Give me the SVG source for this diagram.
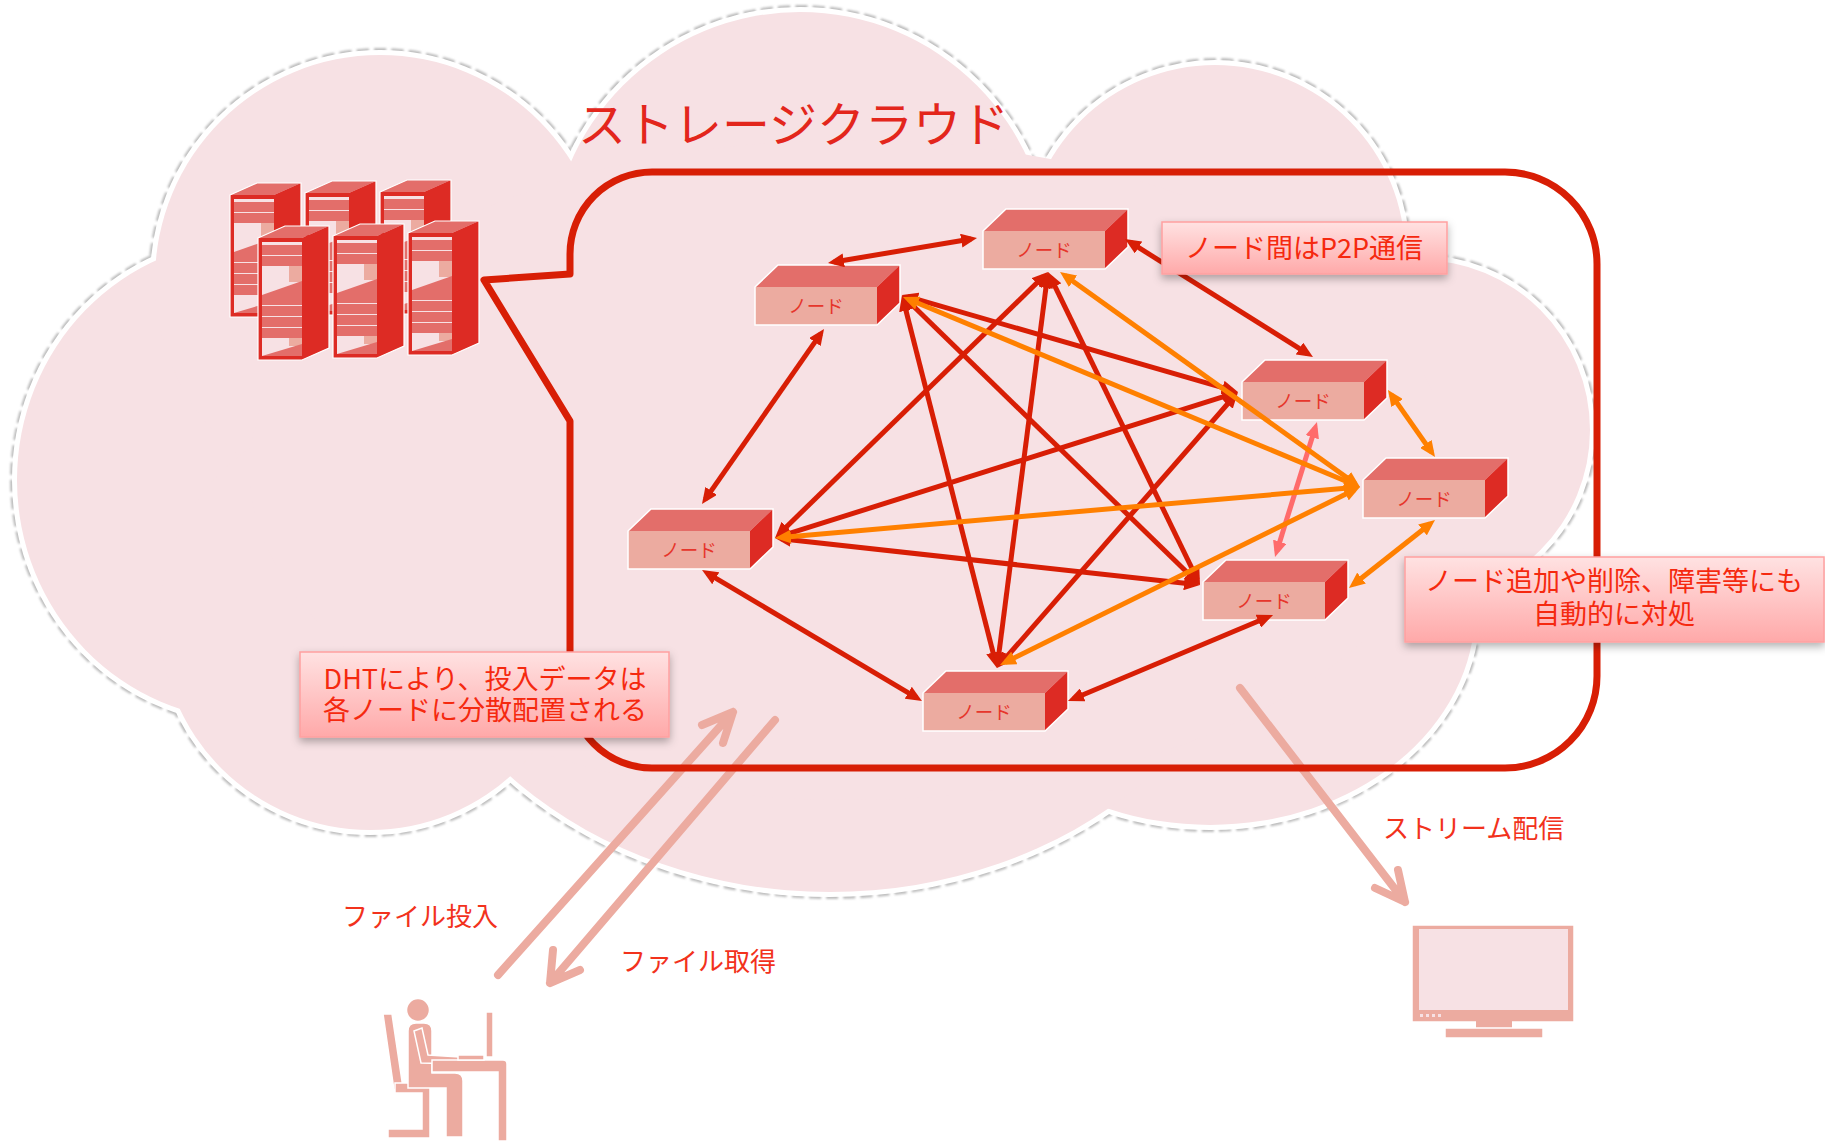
<svg xmlns="http://www.w3.org/2000/svg" width="1825" height="1141" viewBox="0 0 1825 1141">
<style>
  .jp { font-family: "Noto Sans CJK JP", "Noto Sans", sans-serif; }
  .title { font-size: 48px; fill: #e3261c; }
  .lbl { font-size: 26px; fill: #f2321c; }
  .box-t { font-size: 27px; fill: #f5290f; text-anchor: middle; }
  .nd-t { font-size: 18.5px; fill: #e6362c; text-anchor: middle; }
  .note { fill: url(#noteGrad); stroke: #ffa0a0; stroke-width: 1.5; filter: url(#shadow); }
  .link { stroke-width: 5; fill: none; }
  .red { stroke: #d81e05; marker-start: url(#ahRed); marker-end: url(#ahRed); }
  .org { stroke: #ff8000; marker-start: url(#ahOrg); marker-end: url(#ahOrg); }
  .pnk { stroke: #ff6b6b; marker-start: url(#ahPnk); marker-end: url(#ahPnk); }
  .pale { stroke: #ecaba0; stroke-width: 8; stroke-linecap: round; stroke-linejoin: round; fill: none; }
  .ic { fill: #ecaba0; stroke: #fff; stroke-width: 1.5; }
</style>
<defs>
  <linearGradient id="noteGrad" x1="0" y1="0" x2="0" y2="1">
    <stop offset="0" stop-color="#ffe2e2"/>
    <stop offset="1" stop-color="#ffa9a9"/>
  </linearGradient>
  <filter id="shadow" x="-10%" y="-20%" width="130%" height="160%">
    <feDropShadow dx="0" dy="4" stdDeviation="4" flood-color="#000" flood-opacity="0.3"/>
  </filter>
  <filter id="soft" x="-5%" y="-5%" width="110%" height="110%">
    <feGaussianBlur stdDeviation="0.8"/>
  </filter>
  <marker id="ahRed" viewBox="0 0 16 14" markerWidth="16" markerHeight="14" refX="10" refY="7" orient="auto-start-reverse" markerUnits="userSpaceOnUse">
    <path d="M0,0 L16,7 L0,14 Z" fill="#d81e05"/>
  </marker>
  <marker id="ahOrg" viewBox="0 0 16 14" markerWidth="16" markerHeight="14" refX="10" refY="7" orient="auto-start-reverse" markerUnits="userSpaceOnUse">
    <path d="M0,0 L16,7 L0,14 Z" fill="#ff8000"/>
  </marker>
  <marker id="ahPnk" viewBox="0 0 16 14" markerWidth="16" markerHeight="14" refX="10" refY="7" orient="auto-start-reverse" markerUnits="userSpaceOnUse">
    <path d="M0,0 L16,7 L0,14 Z" fill="#ff6b6b"/>
  </marker>

  <!-- cloud lobes -->
  <g id="lobes">
    <ellipse cx="250" cy="480" rx="233" ry="240"/>
    <circle cx="380" cy="280" r="225"/>
    <circle cx="800" cy="262" r="250"/>
    <circle cx="1215" cy="255" r="190"/>
    <circle cx="1420" cy="430" r="170"/>
    <ellipse cx="1210" cy="610" rx="265" ry="215"/>
    <ellipse cx="830" cy="522" rx="440" ry="370"/>
    <circle cx="370" cy="620" r="210"/>
  </g>

  <!-- storage node box, front face origin at (0,0) -->
  <g id="box">
    <polygon points="0,0 23,-22 145,-22 122,0" fill="#e36e6a"/>
    <polygon points="122,0 145,-22 145,16 122,38" fill="#dd2b24"/>
    <rect width="122" height="38" fill="#ecaba0"/>
    <path d="M0,0 L23,-22 H145 V16 L122,38 H0 Z" fill="none" stroke="#fff" stroke-width="1.5"/>
  </g>

  <!-- server rack, front face origin at (0,0) -->
  <g id="rack">
    <polygon points="0,0 27,-12 71,-12 44,0" fill="#e36e6a"/>
    <polygon points="44,0 71,-12 71,110 44,122" fill="#dd2b24"/>
    <rect width="44" height="122" fill="#dd2b24"/>
    <rect x="4" y="4" width="40" height="114" fill="#f7e1e4"/>
    <rect x="4" y="7" width="40" height="10" fill="#e36e6a"/>
    <rect x="4" y="18" width="40" height="10" fill="#e36e6a"/>
    <rect x="31" y="28" width="13" height="16" fill="#ecaba0"/>
    <polygon points="4,57 44,43 44,57" fill="#e36e6a"/>
    <rect x="4" y="57" width="40" height="10" fill="#e36e6a"/>
    <rect x="4" y="68" width="40" height="10" fill="#e36e6a"/>
    <rect x="4" y="79" width="40" height="10" fill="#e36e6a"/>
    <rect x="4" y="90" width="40" height="10" fill="#e36e6a"/>
    <rect x="31" y="100" width="13" height="8" fill="#ecaba0"/>
    <polygon points="4,118 44,106 44,118" fill="#e36e6a"/>
    <path d="M0,0 L27,-12 H71 V110 L44,122 H0 Z" fill="none" stroke="#fff" stroke-width="1.2"/>
  </g>
</defs>

<rect width="1825" height="1141" fill="#fff"/>

<!-- cloud: dashed rim, white halo, then pink body -->
<g id="cloud">
  <use href="#lobes" fill="none" stroke="#bdbdbd" stroke-width="14" stroke-dasharray="12 5" filter="url(#soft)"/>
  <use href="#lobes" fill="#f7e1e4" stroke="#fff" stroke-width="10"/>
  <use href="#lobes" fill="#f7e1e4"/>
  <ellipse cx="850" cy="470" rx="600" ry="330" fill="#f7e1e4"/>
</g>

<!-- transfer arrows -->
<g id="transfers">
  <path class="pale" d="M498,975 L733,712 M702,725 L733,712 L723,743"/>
  <path class="pale" d="M775,720 L550,983 M553,950 L550,983 L580,970"/>
  <path class="pale" d="M1240,688 L1405,902 M1398,870 L1405,902 L1375,888"/>
</g>

<!-- cluster outline with callout toward the servers -->
<path id="cluster" d="M652,172 H1505 A92,92 0 0 1 1597,264 V676 A92,92 0 0 1 1505,768 H652 A82,82 0 0 1 570,686 V421 L484,280 L570,274 V254 A82,82 0 0 1 652,172 Z" fill="none" stroke="#d81e05" stroke-width="7" stroke-linejoin="round"/>

<text class="jp title" x="578" y="142">ストレージクラウド</text>

<!-- server farm -->
<g id="servers">
  <use href="#rack" x="230" y="195"/>
  <use href="#rack" x="305" y="193"/>
  <use href="#rack" x="380" y="192"/>
  <use href="#rack" x="258" y="238"/>
  <use href="#rack" x="333" y="236"/>
  <use href="#rack" x="408" y="233"/>
</g>

<!-- storage nodes -->
<g id="node-1" transform="translate(983,231)"><use href="#box"/><text class="jp nd-t" x="61" y="26">ノード</text></g>
<g id="node-2" transform="translate(755,287)"><use href="#box"/><text class="jp nd-t" x="61" y="26">ノード</text></g>
<g id="node-3" transform="translate(1242,382)"><use href="#box"/><text class="jp nd-t" x="61" y="26">ノード</text></g>
<g id="node-4" transform="translate(1363,480)"><use href="#box"/><text class="jp nd-t" x="61" y="26">ノード</text></g>
<g id="node-5" transform="translate(1203,582)"><use href="#box"/><text class="jp nd-t" x="61" y="26">ノード</text></g>
<g id="node-6" transform="translate(628,531)"><use href="#box"/><text class="jp nd-t" x="61" y="26">ノード</text></g>
<g id="node-7" transform="translate(923,693)"><use href="#box"/><text class="jp nd-t" x="61" y="26">ノード</text></g>

<!-- peer-to-peer links -->
<g id="links" class="link">
  <line class="red" x1="833.9" y1="262" x2="971.1" y2="239"/>
  <line class="red" x1="1130.1" y1="242.2" x2="1307.9" y2="353.8"/>
  <line class="red" x1="820.6" y1="333.9" x2="705.4" y2="499.1"/>
  <line class="red" x1="707.2" y1="573.1" x2="916.8" y2="697.9"/>
  <line class="red" x1="1073.5" y1="698.7" x2="1267.5" y2="617.3"/>
  <line class="org" x1="1391.4" y1="394.9" x2="1431.6" y2="452.1"/>
  <line class="org" x1="1430.3" y1="523.7" x2="1353.7" y2="584.3"/>
  <line class="pnk" x1="1315.2" y1="427.7" x2="1276.8" y2="551.3"/>
  <line class="red" x1="907.8" y1="296.7" x2="1232.2" y2="390.3"/>
  <line class="red" x1="906.3" y1="299.2" x2="1195.7" y2="580.8"/>
  <line class="red" x1="903.5" y1="300.8" x2="995.5" y2="662.2"/>
  <line class="red" x1="1043.7" y1="276.2" x2="779.3" y2="533.8"/>
  <line class="red" x1="1047.2" y1="278" x2="997.8" y2="662"/>
  <line class="red" x1="1050.6" y1="277.4" x2="1197.4" y2="579.6"/>
  <line class="red" x1="1232.3" y1="393.8" x2="780.7" y2="536.2"/>
  <line class="red" x1="1234.1" y1="396.5" x2="1000.9" y2="663.5"/>
  <line class="red" x1="781" y1="538.7" x2="1194" y2="584.3"/>
  <line class="org" x1="908.5" y1="299.3" x2="1354.5" y2="484.7"/>
  <line class="org" x1="1064.9" y1="275.5" x2="1355.1" y2="483.5"/>
  <line class="org" x1="1354" y1="487.5" x2="781" y2="537.5"/>
  <line class="org" x1="1354.6" y1="489.7" x2="1005.4" y2="662.3"/>
</g>

<!-- notes -->
<g id="note-p2p">
  <rect class="note" x="1162" y="222" width="285" height="52"/>
  <text class="jp box-t" x="1304" y="258">ノード間はP2P通信</text>
</g>
<g id="note-dht">
  <rect class="note" x="300" y="652" width="369" height="85"/>
  <text class="jp box-t" x="485" y="689">DHTにより、投入データは<tspan x="485" dy="31">各ノードに分散配置される</tspan></text>
</g>
<g id="note-auto">
  <rect class="note" x="1405" y="557" width="419" height="85"/>
  <text class="jp box-t" x="1614" y="591">ノード追加や削除、障害等にも<tspan x="1614" dy="33">自動的に対処</tspan></text>
</g>

<!-- arrow labels -->
<text class="jp lbl" x="342" y="926">ファイル投入</text>
<text class="jp lbl" x="620" y="971">ファイル取得</text>
<text class="jp lbl" x="1383" y="838">ストリーム配信</text>

<!-- user at a desk -->
<g id="user" class="ic">
  <path d="M383,1014 L392,1014 L403,1088 L394,1090 Z"/>
  <path d="M395,1083 H430 V1138 H388 V1129 H422 V1093 H395 Z"/>
  <circle cx="418" cy="1010" r="11.5"/>
  <path d="M408,1031 Q408,1023 416,1023 H424 Q432,1023 432,1031 V1073 H455 Q463,1073 463,1081 V1137 H446 V1088 H408 Z"/>
  <path d="M414,1031 L422,1028 L428,1055 L460,1057 L460,1064 L421,1063 Z"/>
  <path d="M432,1060 H503 Q507,1060 507,1064 V1141 H498 V1072 H432 Z"/>
  <rect x="486" y="1012" width="7" height="45"/>
  <rect x="458" y="1055" width="26" height="5"/>
</g>

<!-- display -->
<g id="monitor">
  <rect x="1412" y="925" width="162" height="97" fill="#ecaba0" stroke="#fff" stroke-width="1.5"/>
  <rect x="1419" y="929" width="149" height="81" fill="#f7e1e4"/>
  <g fill="#f7e1e4">
    <rect x="1420" y="1014" width="3" height="3"/>
    <rect x="1426" y="1014" width="3" height="3"/>
    <rect x="1432" y="1014" width="3" height="3"/>
    <rect x="1438" y="1014" width="3" height="3"/>
  </g>
  <rect x="1476" y="1021" width="36" height="8" fill="#ecaba0"/>
  <rect x="1445" y="1028" width="98" height="10" fill="#ecaba0" stroke="#fff" stroke-width="1.5"/>
</g>
</svg>
